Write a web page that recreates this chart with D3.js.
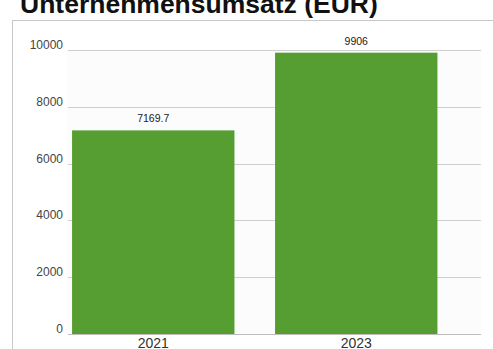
<!DOCTYPE html>
<meta charset="utf-8">
<head>
    <title>Unternehmensumsatz</title>
    <script src="https://d3js.org/d3.v7.min.js"></script>
    <style>
        body { margin: 0; background: #fff; }
        svg { display: block; font-family: "Liberation Sans", Arial, sans-serif; }
    </style>
</head>
<body>
<div id="chart"></div>
<script>
    // data
    var years = ["2021", "2023"];
    var revenue = [7169.7, 9906];
    var yTicks = [0, 2000, 4000, 6000, 8000, 10000];
    var title = "Unternehmensumsatz (EUR)";

    var width = 493, height = 349;
    var plotLeft = 68, plotRight = 481, plotTop = 50, plotBottom = 334;

    var svg = d3.select("#chart")
        .append("svg")
        .attr("width", width)
        .attr("height", height);

    // title, partly cut off at the top
    svg.append("text")
        .attr("x", 20)
        .attr("y", 13)
        .style("font-size", "26.5px")
        .style("font-weight", "bold")
        .style("fill", "#111")
        .text(title);

    // card border
    svg.append("rect")
        .attr("x", 12.5)
        .attr("y", 20.5)
        .attr("width", width + 20)
        .attr("height", height + 20)
        .style("fill", "none")
        .style("stroke", "#c8c8c8")
        .style("stroke-width", 1);

    var y = d3.scaleLinear()
        .domain([0, 10000])
        .range([plotBottom, plotTop]);

    var x = d3.scaleBand()
        .domain(years)
        .range([plotLeft, 441.5])
        .paddingInner(0.2)
        .paddingOuter(0.02);

    // plot background
    svg.append("rect")
        .attr("x", plotLeft - 2)
        .attr("y", plotTop)
        .attr("width", plotRight - plotLeft + 2)
        .attr("height", plotBottom - plotTop)
        .style("fill", "#fcfcfc");

    // grid lines
    svg.append("g")
        .selectAll("line")
        .data(yTicks)
        .enter()
        .append("line")
        .attr("x1", plotLeft)
        .attr("x2", plotRight)
        .attr("y1", function (d) { return Math.round(y(d)) + 0.5; })
        .attr("y2", function (d) { return Math.round(y(d)) + 0.5; })
        .style("stroke", function (d) { return d === 0 ? "#bdbdbd" : "#cfcfcf"; })
        .style("stroke-width", 1);

    // y labels
    svg.append("g")
        .selectAll("text")
        .data(yTicks)
        .enter()
        .append("text")
        .attr("x", 63)
        .attr("y", function (d) { return y(d) - 1; })
        .attr("text-anchor", "end")
        .style("font-size", "12px")
        .style("fill", "#444")
        .text(function (d) { return d; });

    // bars
    svg.append("g")
        .selectAll("rect")
        .data(revenue)
        .enter()
        .append("rect")
        .attr("x", function (d, i) { return x(years[i]); })
        .attr("y", function (d) { return y(d); })
        .attr("width", x.bandwidth())
        .attr("height", function (d) { return plotBottom - y(d); })
        .style("fill", "#569e32");

    // value labels
    svg.append("g")
        .selectAll("text")
        .data(revenue)
        .enter()
        .append("text")
        .attr("x", function (d, i) { return x(years[i]) + x.bandwidth() / 2; })
        .attr("y", function (d) { return y(d) - 8; })
        .attr("text-anchor", "middle")
        .style("font-size", "10.5px")
        .style("fill", "#222")
        .text(function (d) { return d; });

    // x labels
    svg.append("g")
        .selectAll("text")
        .data(years)
        .enter()
        .append("text")
        .attr("x", function (d) { return x(d) + x.bandwidth() / 2; })
        .attr("y", 348)
        .attr("text-anchor", "middle")
        .style("font-size", "14px")
        .style("fill", "#333")
        .text(function (d) { return d; });
</script>
</body>
